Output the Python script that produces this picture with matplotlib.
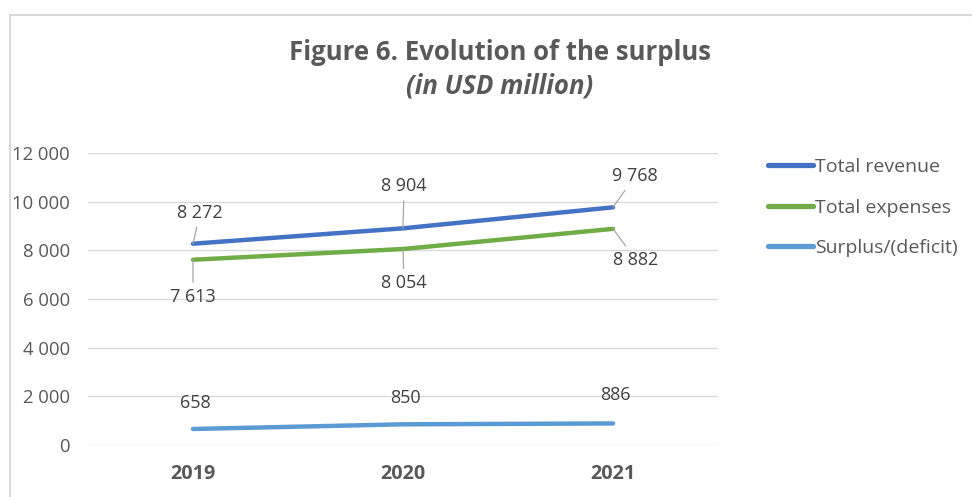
import matplotlib
matplotlib.use("Agg")
import matplotlib.pyplot as plt
from matplotlib.patches import Rectangle

plt.rcParams['font.family'] = ['Open Sans', 'DejaVu Sans']

years = ["2019", "2020", "2021"]
revenue = [8272, 8904, 9768]
expenses = [7613, 8054, 8882]
surplus = [658, 850, 886]
series_names = ["Total revenue", "Total expenses", "Surplus/(deficit)"]
colors = ["#4472C4", "#70AD47", "#5B9BD5"]
yticks = [0, 2000, 4000, 6000, 8000, 10000, 12000]

def fmt(v):
    return f"{v:,}".replace(",", " ")

W, H = 972, 497
fig = plt.figure(figsize=(W / 100, H / 100), dpi=100)

# chart border
fig.add_artist(Rectangle((10 / W, -0.1), 1.2, 1 - 15 / H + 0.1, transform=fig.transFigure,
                         fill=False, edgecolor="#D9D9D9", linewidth=1.5))

ax = fig.add_axes([88 / W, 1 - 445 / H, (718 - 88) / W, (445 - 153) / H])
x = list(range(len(years)))
data = [revenue, expenses, surplus]
for vals, name, c in zip(data, series_names, colors):
    ax.plot(x, vals, color=c, linewidth=3.2, solid_capstyle="round", label=name, zorder=3)

ax.set_xlim(-0.5, len(years) - 0.5)
ax.set_ylim(0, 12000)
ax.set_yticks(yticks)
ax.set_yticklabels([fmt(v) for v in yticks])
ax.set_xticks(x)
ax.set_xticklabels(years, fontweight="bold")
ax.tick_params(axis="y", length=0, pad=13, labelsize=13.3, labelcolor="#595959")
ax.tick_params(axis="x", length=0, pad=14, labelsize=14.3, labelcolor="#595959")
ax.grid(axis="y", color="#D9D9D9", linewidth=1)
ax.set_axisbelow(True)
for s in ax.spines.values():
    s.set_visible(False)

# data labels (offsets in pixels), leader flag
offsets = {
    0: [(7, 31, True), (1, 42, True), (22, 31, True)],
    1: [(0, -37, True), (1, -34, True), (23, -31, True)],
    2: [(2, 26, False), (2, 26, False), (2, 28, False)],
}
for si, vals in enumerate(data):
    for i, v in enumerate(vals):
        dx, dy, lead = offsets[si][i]
        kw = {}
        if lead:
            kw["arrowprops"] = dict(arrowstyle="-", color="#A6A6A6", linewidth=0.9,
                                    shrinkA=2, shrinkB=0)
        ax.annotate(fmt(v), xy=(i, v), xytext=(dx, dy), textcoords="offset pixels",
                    ha="center", va="center", fontsize=13, color="#404040", **kw)

fig.text(500 / W, 1 - 52 / H, "Figure 6. Evolution of the surplus", ha="center", va="center",
         fontsize=18.5, fontweight="bold", color="#595959")
fig.text(500 / W, 1 - 86 / H, "(in USD million)", ha="center", va="center",
         fontsize=18.5, fontweight="bold", fontstyle="italic", color="#595959")

leg = fig.legend(loc="upper left", bbox_to_anchor=(760 / W, 1 - 150 / H), frameon=False,
                 fontsize=14, handlelength=2.3, handletextpad=0.15, labelspacing=1.17,
                 borderaxespad=0)
for t in leg.get_texts():
    t.set_color("#595959")
for l in leg.get_lines():
    l.set_linewidth(3.8)

fig.savefig("out.png", dpi=100)
